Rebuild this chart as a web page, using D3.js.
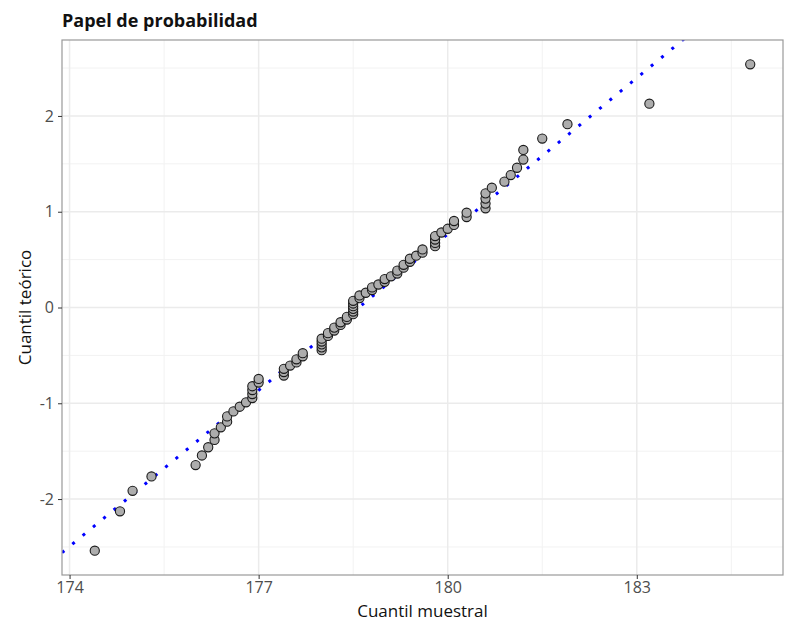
<!DOCTYPE html>
<html>
<head>
<meta charset="utf-8">
<script src="https://cdn.jsdelivr.net/npm/d3@7"></script>
<style>
  body { margin: 0; background: #fff; }
  text { font-family: "Open Sans", "Noto Sans", sans-serif; }
  .tick text { fill: #4d4d4d; font-size: 16px; }
  .tick line { stroke: #333; }
</style>
</head>
<body>
<div id="chart"></div>
<script>
// sample quantiles (sorted)
var muestral = [
  174.4, 174.8, 175.0, 175.3, 176.0, 176.1, 176.2, 176.3, 176.3, 176.4,
  176.5, 176.5, 176.6, 176.7, 176.8, 176.9, 176.9, 176.9, 176.9, 177.0,
  177.0, 177.4, 177.4, 177.4, 177.5, 177.6, 177.6, 177.7, 177.7, 178.0,
  178.0, 178.0, 178.0, 178.0, 178.1, 178.1, 178.2, 178.2, 178.3, 178.3,
  178.4, 178.4, 178.5, 178.5, 178.5, 178.5, 178.5, 178.5, 178.6, 178.6,
  178.7, 178.8, 178.8, 178.9, 179.0, 179.0, 179.1, 179.2, 179.2, 179.3,
  179.3, 179.4, 179.4, 179.5, 179.6, 179.6, 179.8, 179.8, 179.8, 179.8,
  179.9, 180.0, 180.1, 180.1, 180.3, 180.3, 180.6, 180.6, 180.6, 180.6,
  180.7, 180.9, 181.0, 181.1, 181.2, 181.2, 181.5, 181.9, 183.2, 184.8
]

// theoretical quantiles
var teorico = [
  -2.539, -2.128, -1.914, -1.764, -1.645, -1.545, -1.459, -1.383, -1.314, -1.251,
  -1.192, -1.137, -1.085, -1.036, -0.990, -0.945, -0.903, -0.862, -0.822, -0.783,
  -0.746, -0.710, -0.674, -0.640, -0.606, -0.573, -0.541, -0.509, -0.477, -0.446,
  -0.416, -0.385, -0.355, -0.326, -0.297, -0.268, -0.240, -0.210, -0.182, -0.154,
  -0.126, -0.098, -0.070, -0.042, -0.014, 0.014, 0.042, 0.070, 0.098, 0.126,
  0.154, 0.182, 0.210, 0.240, 0.268, 0.297, 0.326, 0.355, 0.385, 0.416,
  0.446, 0.477, 0.509, 0.541, 0.573, 0.606, 0.640, 0.674, 0.710, 0.746,
  0.783, 0.822, 0.862, 0.903, 0.945, 0.990, 1.036, 1.085, 1.137, 1.192,
  1.251, 1.314, 1.383, 1.459, 1.545, 1.645, 1.764, 1.914, 2.128, 2.539
]

var xTicks = [174, 177, 180, 183]
var xMinor = [175.5, 178.5, 181.5, 184.5]
var yTicks = [-2, -1, 0, 1, 2]
var yMinor = [-2.5, -1.5, -0.5, 0.5, 1.5, 2.5]

// reference line: media y desviación
var lineaMedia = 178.59
var lineaSd = 1.84

var data = muestral.map(function(v, i){ return {x: v, y: teorico[i]} })

var totalW = 805, totalH = 632
var margin = {left: 62, right: 22, top: 40, bottom: 57}
var width = totalW - margin.left - margin.right
var height = totalH - margin.top - margin.bottom

var svg = d3.select('#chart').append('svg')
  .attr('width', totalW).attr('height', totalH)

var g = svg.append('g').attr('transform', 'translate(' + margin.left + ',' + margin.top + ')')

function expand(ext){ var r = ext[1] - ext[0]; return [ext[0] - r * .05, ext[1] + r * .05] }

var x = d3.scaleLinear().domain(expand(d3.extent(muestral))).range([0, width])
var y = d3.scaleLinear().domain(expand(d3.extent(teorico))).range([height, 0])

// grid
g.selectAll('.xminor').data(xMinor).enter().append('line')
  .attr('x1', x).attr('x2', x).attr('y1', 0).attr('y2', height)
  .attr('stroke', '#f2f2f2').attr('stroke-width', 1)
g.selectAll('.yminor').data(yMinor).enter().append('line')
  .attr('y1', y).attr('y2', y).attr('x1', 0).attr('x2', width)
  .attr('stroke', '#f2f2f2').attr('stroke-width', 1)
g.selectAll('.xmajor').data(xTicks).enter().append('line')
  .attr('x1', x).attr('x2', x).attr('y1', 0).attr('y2', height)
  .attr('stroke', '#ebebeb').attr('stroke-width', 1.5)
g.selectAll('.ymajor').data(yTicks).enter().append('line')
  .attr('y1', y).attr('y2', y).attr('x1', 0).attr('x2', width)
  .attr('stroke', '#ebebeb').attr('stroke-width', 1.5)

// dotted reference line, clipped to panel
svg.append('clipPath').attr('id', 'clip')
  .append('rect').attr('width', width).attr('height', height)

var xd = x.domain()
g.append('line')
  .attr('clip-path', 'url(#clip)')
  .attr('x1', x(xd[0])).attr('y1', y((xd[0] - lineaMedia) / lineaSd))
  .attr('x2', x(xd[1])).attr('y2', y((xd[1] - lineaMedia) / lineaSd))
  .attr('stroke', '#0000ff').attr('stroke-width', 3)
  .attr('stroke-dasharray', '3 10.4')

// points
g.selectAll('circle').data(data).enter().append('circle')
  .attr('cx', function(d){ return x(d.x) })
  .attr('cy', function(d){ return y(d.y) })
  .attr('r', 4.6)
  .attr('fill', '#adadad')
  .attr('stroke', '#1a1a1a')
  .attr('stroke-width', 1.1)

// border
g.append('rect').attr('width', width).attr('height', height)
  .attr('fill', 'none').attr('stroke', '#999').attr('stroke-width', 1.2)

// axes
var xAxis = g.append('g').attr('transform', 'translate(0,' + height + ')')
  .call(d3.axisBottom(x).tickValues(xTicks).tickSize(4).tickPadding(3))
var yAxis = g.append('g')
  .call(d3.axisLeft(y).tickValues(yTicks).tickSize(4).tickPadding(4).tickFormat(function(d){ return String(d) }))
xAxis.select('.domain').remove()
yAxis.select('.domain').remove()

// titles
svg.append('text').attr('x', 62).attr('y', 27)
  .attr('font-size', 18).attr('font-weight', 'bold').attr('fill', '#111')
  .text('Papel de probabilidad')

svg.append('text').attr('x', margin.left + width / 2).attr('y', 617)
  .attr('text-anchor', 'middle').attr('font-size', 17).attr('fill', '#111')
  .text('Cuantil muestral')

svg.append('text')
  .attr('transform', 'translate(31,' + (margin.top + height / 2) + ') rotate(-90)')
  .attr('text-anchor', 'middle').attr('font-size', 17).attr('fill', '#111')
  .text('Cuantil teórico')
</script>
</body>
</html>
